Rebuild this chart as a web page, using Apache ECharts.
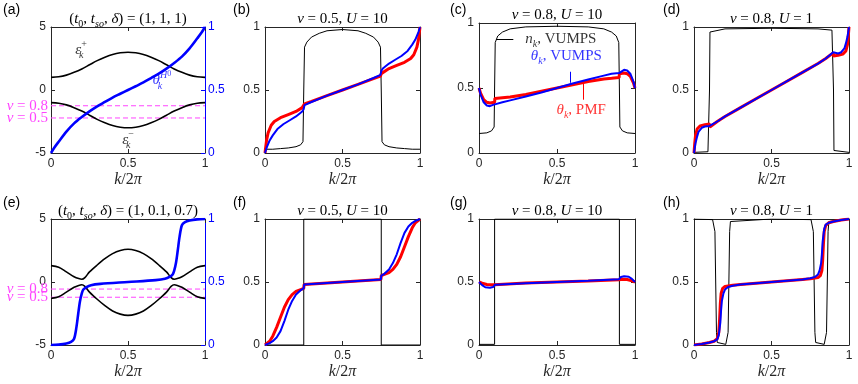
<!DOCTYPE html>
<html>
<head>
<meta charset="utf-8">
<script src="https://cdn.jsdelivr.net/npm/echarts@6/dist/echarts.min.js"></script>
<style>
  html, body { margin: 0; background: #fff; }
  #chart { width: 858px; height: 384px; }
</style>
</head>
<body>
<div id="chart"></div>
<script>
// tick values on the k axis, shared by every panel
const kTicks = [0, 0.5, 1];

// ---- (a) bands and bare theta, (t0,tso,delta) = (1,1,1)
const aEpsPlus = [[0,1.0],[0.05,1.05],[0.1,1.18],[0.15,1.4],[0.2,1.67],[0.25,2.0],[0.3,2.33],[0.35,2.6],[0.4,2.82],[0.45,2.95],[0.5,3.0],[0.55,2.95],[0.6,2.82],[0.65,2.6],[0.7,2.33],[0.75,2.0],[0.8,1.67],[0.85,1.4],[0.9,1.18],[0.95,1.05],[1,1.0]];
const aEpsMinus = [[0,-1.0],[0.05,-1.05],[0.1,-1.18],[0.15,-1.4],[0.2,-1.67],[0.25,-2.0],[0.3,-2.33],[0.35,-2.6],[0.4,-2.82],[0.45,-2.95],[0.5,-3.0],[0.55,-2.95],[0.6,-2.82],[0.65,-2.6],[0.7,-2.33],[0.75,-2.0],[0.8,-1.67],[0.85,-1.4],[0.9,-1.18],[0.95,-1.05],[1,-1.0]];
const aTheta = [[0,0],[0.02,0.04],[0.05,0.09],[0.1,0.17],[0.15,0.235],[0.2,0.285],[0.25,0.33],[0.3,0.37],[0.35,0.405],[0.4,0.44],[0.45,0.47],[0.5,0.5],[0.55,0.53],[0.6,0.56],[0.65,0.595],[0.7,0.63],[0.75,0.67],[0.8,0.715],[0.85,0.765],[0.9,0.83],[0.95,0.91],[0.98,0.96],[1,1]];
const aNuLevels = [-1.25, -2.22];

// ---- (b) nu=0.5, U=10
const bNk = [[0,0.03],[0.05,0.03],[0.1,0.035],[0.15,0.04],[0.2,0.05],[0.23,0.065],[0.245,0.09],[0.25,0.5],[0.255,0.84],[0.27,0.88],[0.3,0.92],[0.35,0.95],[0.4,0.97],[0.5,0.98],[0.6,0.97],[0.65,0.95],[0.7,0.92],[0.73,0.88],[0.745,0.84],[0.75,0.5],[0.755,0.09],[0.77,0.065],[0.8,0.05],[0.85,0.04],[0.9,0.035],[0.95,0.03],[1,0.03]];
const bPmf = [[0,0],[0.01,0.1],[0.02,0.16],[0.04,0.22],[0.06,0.25],[0.1,0.28],[0.15,0.305],[0.2,0.33],[0.24,0.36],[0.25,0.37],[0.255,0.39],[0.3,0.41],[0.4,0.455],[0.5,0.5],[0.6,0.545],[0.7,0.59],[0.745,0.61],[0.75,0.63],[0.76,0.64],[0.8,0.67],[0.85,0.695],[0.9,0.72],[0.94,0.75],[0.96,0.78],[0.98,0.84],[0.99,0.9],[1,1]];
const bVumps = [[0,0],[0.01,0.04],[0.03,0.1],[0.05,0.14],[0.08,0.19],[0.12,0.23],[0.16,0.26],[0.2,0.29],[0.24,0.33],[0.25,0.35],[0.255,0.38],[0.3,0.405],[0.4,0.455],[0.5,0.5],[0.6,0.545],[0.7,0.595],[0.745,0.62],[0.75,0.65],[0.76,0.67],[0.8,0.71],[0.84,0.74],[0.88,0.77],[0.92,0.81],[0.95,0.86],[0.97,0.9],[0.99,0.96],[1,1]];

// ---- (c) nu=0.8, U=10
const cNk = [[0,0.15],[0.05,0.155],[0.08,0.17],[0.097,0.2],[0.1,0.5],[0.104,0.85],[0.12,0.9],[0.15,0.93],[0.2,0.955],[0.3,0.97],[0.5,0.975],[0.7,0.97],[0.8,0.955],[0.85,0.93],[0.88,0.9],[0.896,0.85],[0.9,0.5],[0.903,0.2],[0.92,0.17],[0.95,0.155],[1,0.15]];
const cPmf = [[0,0.5],[0.01,0.46],[0.03,0.41],[0.05,0.39],[0.07,0.385],[0.1,0.39],[0.102,0.42],[0.15,0.425],[0.2,0.43],[0.3,0.45],[0.4,0.475],[0.5,0.5],[0.6,0.525],[0.7,0.55],[0.8,0.57],[0.85,0.575],[0.898,0.58],[0.9,0.61],[0.93,0.615],[0.95,0.61],[0.97,0.59],[0.99,0.54],[1,0.5]];
const cVumps = [[0,0.5],[0.01,0.45],[0.03,0.39],[0.05,0.365],[0.07,0.36],[0.09,0.37],[0.1,0.375],[0.102,0.385],[0.15,0.39],[0.2,0.405],[0.3,0.435],[0.4,0.465],[0.5,0.5],[0.6,0.535],[0.7,0.565],[0.8,0.595],[0.85,0.61],[0.898,0.615],[0.9,0.625],[0.91,0.63],[0.93,0.64],[0.95,0.635],[0.97,0.61],[0.99,0.55],[1,0.5]];

// ---- (d) nu=0.8, U=1
const dNk = [[0,0.005],[0.09,0.01],[0.097,0.02],[0.1,0.5],[0.103,0.96],[0.11,0.975],[0.2,0.985],[0.5,0.99],[0.8,0.985],[0.89,0.975],[0.897,0.96],[0.9,0.5],[0.903,0.02],[0.91,0.01],[1,0.005]];
const dPmf = [[0,0],[0.005,0.08],[0.01,0.14],[0.02,0.19],[0.04,0.215],[0.07,0.225],[0.1,0.23],[0.102,0.205],[0.15,0.25],[0.2,0.29],[0.3,0.36],[0.4,0.43],[0.5,0.5],[0.6,0.57],[0.7,0.64],[0.8,0.71],[0.85,0.75],[0.898,0.795],[0.9,0.77],[0.93,0.775],[0.96,0.785],[0.98,0.81],[0.99,0.86],[0.995,0.92],[1,1]];
const dVumps = [[0,0],[0.005,0.04],[0.01,0.08],[0.02,0.13],[0.03,0.17],[0.05,0.2],[0.07,0.21],[0.1,0.215],[0.102,0.2],[0.15,0.25],[0.2,0.29],[0.3,0.36],[0.4,0.43],[0.5,0.5],[0.6,0.57],[0.7,0.64],[0.8,0.71],[0.85,0.75],[0.898,0.8],[0.9,0.785],[0.93,0.79],[0.95,0.8],[0.97,0.83],[0.98,0.87],[0.99,0.92],[0.995,0.96],[1,1]];

// ---- (e) bands and bare theta, (t0,tso,delta) = (1,0.1,0.7)
const eEpsPlus = [[0,1.3],[0.05,1.17],[0.1,0.8],[0.15,0.42],[0.18,0.27],[0.2,0.22],[0.22,0.35],[0.25,0.8],[0.3,1.35],[0.35,1.85],[0.4,2.25],[0.45,2.5],[0.5,2.6],[0.55,2.5],[0.6,2.25],[0.65,1.85],[0.7,1.35],[0.75,0.8],[0.78,0.35],[0.8,0.22],[0.82,0.27],[0.85,0.42],[0.9,0.8],[0.95,1.17],[1,1.3]];
const eEpsMinus = [[0,-1.3],[0.05,-1.17],[0.1,-0.8],[0.15,-0.42],[0.18,-0.27],[0.2,-0.22],[0.22,-0.35],[0.25,-0.8],[0.3,-1.37],[0.35,-1.88],[0.4,-2.3],[0.45,-2.55],[0.5,-2.65],[0.55,-2.55],[0.6,-2.3],[0.65,-1.88],[0.7,-1.37],[0.75,-0.8],[0.78,-0.35],[0.8,-0.22],[0.82,-0.27],[0.85,-0.42],[0.9,-0.8],[0.95,-1.17],[1,-1.3]];
const eTheta = [[0,0],[0.05,0.003],[0.1,0.012],[0.13,0.025],[0.15,0.05],[0.165,0.14],[0.177,0.25],[0.188,0.345],[0.2,0.41],[0.21,0.44],[0.23,0.46],[0.26,0.475],[0.32,0.485],[0.5,0.5],[0.68,0.515],[0.74,0.525],[0.77,0.54],[0.79,0.56],[0.8,0.59],[0.812,0.655],[0.823,0.75],[0.835,0.86],[0.85,0.95],[0.87,0.975],[0.9,0.988],[0.95,0.997],[1,1]];
const eNuLevels = [-0.56, -1.21];

// ---- (f) nu=0.5, U=10
const fNk = [[0,0],[0.25,0],[0.25,1],[0.75,1],[0.75,0],[1,0]];
const fPmf = [[0,0],[0.03,0.03],[0.05,0.07],[0.075,0.14],[0.1,0.22],[0.125,0.3],[0.15,0.36],[0.175,0.4],[0.2,0.425],[0.23,0.44],[0.25,0.45],[0.252,0.48],[0.5,0.5],[0.748,0.52],[0.75,0.55],[0.77,0.56],[0.8,0.575],[0.825,0.6],[0.85,0.64],[0.875,0.7],[0.9,0.78],[0.925,0.86],[0.95,0.93],[0.97,0.97],[1,1]];
const fVumps = [[0,0],[0.03,0.015],[0.05,0.03],[0.075,0.06],[0.1,0.11],[0.125,0.19],[0.15,0.28],[0.175,0.35],[0.2,0.4],[0.23,0.435],[0.25,0.45],[0.252,0.48],[0.5,0.5],[0.748,0.52],[0.75,0.55],[0.77,0.565],[0.8,0.6],[0.825,0.65],[0.85,0.72],[0.875,0.81],[0.9,0.89],[0.925,0.94],[0.95,0.97],[0.97,0.985],[1,1]];

// ---- (g) nu=0.8, U=10
const gNk = [[0,0.005],[0.1,0.005],[0.1,1],[0.9,1],[0.9,0.005],[1,0.005]];
const gPmf = [[0,0.5],[0.02,0.49],[0.05,0.48],[0.08,0.478],[0.1,0.478],[0.102,0.482],[0.3,0.493],[0.5,0.5],[0.7,0.507],[0.898,0.518],[0.9,0.522],[0.92,0.522],[0.95,0.52],[0.98,0.51],[1,0.5]];
const gVumps = [[0,0.5],[0.02,0.475],[0.04,0.458],[0.07,0.455],[0.09,0.46],[0.1,0.465],[0.102,0.478],[0.3,0.49],[0.5,0.5],[0.7,0.51],[0.898,0.522],[0.9,0.535],[0.91,0.54],[0.93,0.545],[0.96,0.542],[0.98,0.525],[1,0.5]];

// ---- (h) nu=0.8, U=1
const hNk = [[0,1],[0.12,0.995],[0.13,0.98],[0.135,0.9],[0.14,0.5],[0.145,0.1],[0.15,0.02],[0.16,0.005],[0.205,0.005],[0.215,0.02],[0.22,0.1],[0.225,0.5],[0.23,0.9],[0.235,0.98],[0.245,0.995],[0.5,1],[0.755,0.995],[0.765,0.98],[0.77,0.9],[0.775,0.5],[0.78,0.1],[0.785,0.02],[0.795,0.005],[0.84,0.005],[0.85,0.02],[0.855,0.1],[0.86,0.5],[0.865,0.9],[0.87,0.98],[0.88,0.995],[1,1]];
const hPmf = [[0,0],[0.05,0.008],[0.1,0.02],[0.13,0.03],[0.15,0.05],[0.16,0.1],[0.165,0.2],[0.17,0.33],[0.175,0.41],[0.185,0.45],[0.2,0.465],[0.25,0.475],[0.3,0.48],[0.4,0.49],[0.5,0.5],[0.6,0.51],[0.7,0.52],[0.75,0.525],[0.8,0.535],[0.815,0.55],[0.825,0.59],[0.83,0.67],[0.835,0.8],[0.84,0.9],[0.85,0.95],[0.87,0.97],[0.9,0.98],[0.95,0.992],[1,1]];
const hVumps = [[0,0],[0.05,0.008],[0.1,0.02],[0.13,0.03],[0.15,0.045],[0.16,0.08],[0.17,0.18],[0.175,0.28],[0.18,0.35],[0.19,0.41],[0.2,0.44],[0.22,0.46],[0.25,0.47],[0.3,0.48],[0.4,0.49],[0.5,0.5],[0.6,0.51],[0.7,0.52],[0.75,0.53],[0.78,0.54],[0.8,0.56],[0.81,0.59],[0.82,0.65],[0.825,0.72],[0.83,0.82],[0.84,0.92],[0.85,0.955],[0.87,0.97],[0.9,0.98],[0.95,0.992],[1,1]];

// panel texts
const panelTags = ['(a)', '(b)', '(c)', '(d)', '(e)', '(f)', '(g)', '(h)'];
const panelTitles = [
  '{n|(}{i|t}{bn|0}{n|, }{i|t}{b|so}{n|, }{i|δ}{n|) = (1, 1, 1)}',
  '{i|ν}{n| = 0.5, }{i|U}{n| = 10}',
  '{i|ν}{n| = 0.8, }{i|U}{n| = 10}',
  '{i|ν}{n| = 0.8, }{i|U}{n| = 1}',
  '{n|(}{i|t}{bn|0}{n|, }{i|t}{b|so}{n|, }{i|δ}{n|) = (1, 0.1, 0.7)}',
  '{i|ν}{n| = 0.5, }{i|U}{n| = 10}',
  '{i|ν}{n| = 0.8, }{i|U}{n| = 10}',
  '{i|ν}{n| = 0.8, }{i|U}{n| = 1}'
];
const nuLabels = ['{i|ν}{n| = 0.8}', '{i|ν}{n| = 0.5}'];

const SERIF = '"Liberation Serif", "Times New Roman", serif';
const SANS = '"Liberation Sans", Arial, sans-serif';
const INK = '#262626';
const RED = '#ff0000';
const BLUE = '#0000ff';
const PINK = '#ff44ff';

// little rich-text kit for math-ish labels
function richSet(size) {
  const small = Math.round(size * 0.68);
  return {
    i: { fontFamily: SERIF, fontStyle: 'italic', fontSize: size, lineHeight: size + 6 },
    n: { fontFamily: SERIF, fontSize: size, lineHeight: size + 6 },
    b: { fontFamily: SERIF, fontStyle: 'italic', fontSize: small, lineHeight: small + 2, verticalAlign: 'bottom' },
    bn: { fontFamily: SERIF, fontSize: small, lineHeight: small + 2, verticalAlign: 'bottom' },
    b0: { fontFamily: SERIF, fontStyle: 'italic', fontSize: small, lineHeight: small + 2, verticalAlign: 'bottom', width: 0 },
    t: { fontFamily: SERIF, fontStyle: 'italic', fontSize: small, lineHeight: small + 2, verticalAlign: 'top' },
    tn: { fontFamily: SERIF, fontSize: small, lineHeight: small + 2, verticalAlign: 'top' },
    tt: { fontFamily: SERIF, fontSize: small - 2, lineHeight: small + 4, verticalAlign: 'top' }
  };
}

// [left, top, width, height]
const rects = [
  [51, 27, 154, 126], [265, 27, 155, 126], [479, 23, 156, 130], [694, 27, 155, 126],
  [51, 219, 154, 126], [265, 219, 155, 126], [479, 219, 156, 126], [694, 219, 155, 126]
];

const grid = [], xAxis = [], yAxis = [], series = [], graphic = [];

rects.forEach(function (r, i) {
  grid.push({ left: r[0], top: r[1], width: r[2], height: r[3], show: false });
  const lineSt = { show: true, onZero: false, lineStyle: { color: INK, width: 1 } };
  const tickSt = { show: true, inside: true, length: 4, lineStyle: { color: INK } };
  xAxis.push({
    gridIndex: i, type: 'value', position: 'bottom', min: kTicks[0], max: kTicks[2], interval: kTicks[1],
    axisLine: lineSt, axisTick: tickSt, splitLine: { show: false },
    axisLabel: { color: INK, fontFamily: SANS, fontSize: 12, margin: 5 },
    name: '{i|k}{n|/2}{i|π}', nameLocation: 'middle', nameGap: 16,
    nameTextStyle: { color: INK, rich: richSet(16) }
  });
  xAxis.push({
    gridIndex: i, type: 'value', position: 'top', min: 0, max: 1, interval: 0.5,
    axisLine: lineSt, axisTick: tickSt, splitLine: { show: false }, axisLabel: { show: false }
  });
  const band = (i === 0 || i === 4);
  yAxis.push({
    gridIndex: i, type: 'value', position: 'left',
    min: band ? -5 : 0, max: band ? 5 : 1, interval: band ? 5 : 0.5,
    axisLine: lineSt, axisTick: tickSt, splitLine: { show: false },
    axisLabel: { color: INK, fontFamily: SANS, fontSize: 12, margin: 5 }
  });
  yAxis.push({
    gridIndex: i, type: 'value', position: 'right', min: 0, max: 1, interval: 0.5,
    axisLine: { show: true, onZero: false, lineStyle: { color: band ? BLUE : INK, width: 1 } },
    axisTick: { show: true, inside: true, length: 4, lineStyle: { color: band ? BLUE : INK } },
    splitLine: { show: false },
    axisLabel: { show: band, color: BLUE, fontFamily: SANS, fontSize: 12, margin: 3 }
  });

  // titles and panel tags
  graphic.push({
    type: 'text', x: r[0] + r[2] / 2, y: r[1] - 8, silent: true,
    style: { text: panelTitles[i], align: 'center', verticalAlign: 'middle', fill: '#000', rich: richSet(15) }
  });
  graphic.push({
    type: 'text', x: [3, 233, 450, 663][i % 4], y: i < 4 ? 10 : 203, silent: true,
    style: { text: panelTags[i], align: 'left', verticalAlign: 'middle', fill: '#000', font: '14px ' + SANS }
  });
});

function curve(i, data, color, width, opts) {
  return Object.assign({
    type: 'line', xAxisIndex: 2 * i, yAxisIndex: 2 * i, data: data,
    showSymbol: false, symbol: 'none', silent: true, animation: false,
    lineStyle: { color: color, width: width }, z: 2
  }, opts || {});
}

function note(i, pos, text, color, size, yIdx) {
  return {
    type: 'scatter', xAxisIndex: 2 * i, yAxisIndex: yIdx == null ? 2 * i : yIdx,
    data: [pos], symbolSize: 0, silent: true, animation: false, z: 6,
    label: { show: true, position: 'inside', formatter: text, color: color, rich: richSet(size) }
  };
}

// dashed filling-level guides; a plain series so the colour is exactly ours
function nuGuide(i, level, j) {
  return {
    type: 'line', xAxisIndex: 2 * i, yAxisIndex: 2 * i, data: [[0, level], [1, level]],
    showSymbol: false, symbol: 'none', silent: true, animation: false, z: 1,
    lineStyle: { color: PINK, width: 1, type: [5, 3] },
    markPoint: {
      silent: true, animation: false, symbol: 'circle', symbolSize: 0,
      label: { show: true, position: 'left', distance: 3, color: PINK, formatter: nuLabels[j], rich: richSet(15) },
      data: [{ coord: [0, level] }]
    }
  };
}

function arrow(color, from, to) {
  return {
    silent: true, animation: false, symbol: ['none', 'arrow'], symbolSize: [0, 7],
    lineStyle: { color: color, type: 'solid', width: 1 }, label: { show: false },
    data: [[{ coord: from }, { coord: to }]]
  };
}

// (a)
aNuLevels.forEach(function (v, j) { series.push(nuGuide(0, v, j)); });
series.push(curve(0, aEpsPlus, '#000', 1.6, { smooth: 0.3 }));
series.push(curve(0, aEpsMinus, '#000', 1.6, { smooth: 0.3 }));
series.push(curve(0, aTheta, BLUE, 2.6, { yAxisIndex: 1, smooth: 0.3, z: 4 }));
series.push(note(0, [0.195, 3.2], '{i|ε}{b0|k}{tn|+}', '#000', 15));
series.push(note(0, [0.72, 0.75], '{i|θ}{b0|k}{t|H}{tt|0}', BLUE, 15));
series.push(note(0, [0.5, -3.95], '{i|ε}{b0|k}{tn|−}', '#000', 15));

// (b)
series.push(curve(1, bNk, '#000', 1));
series.push(curve(1, bPmf, RED, 3, { z: 3 }));
series.push(curve(1, bVumps, BLUE, 2, { z: 4 }));

// (c)
series.push(curve(2, cNk, '#000', 1, { markLine: arrow('#000', [0.22, 0.875], [0.11, 0.875]) }));
series.push(curve(2, cPmf, RED, 3, { z: 3, markLine: arrow(RED, [0.67, 0.41], [0.67, 0.545]) }));
series.push(curve(2, cVumps, BLUE, 2, { z: 4, markLine: arrow(BLUE, [0.585, 0.625], [0.585, 0.54]) }));
series.push(note(2, [0.525, 0.875], '{i|n}{b|k}{n|, VUMPS}', '#000', 15));
series.push(note(2, [0.56, 0.745], '{i|θ}{b|k}{n|, VUMPS}', BLUE, 15));
series.push(note(2, [0.655, 0.33], '{i|θ}{b|k}{n|, PMF}', RED, 15));

// (d)
series.push(curve(3, dNk, '#000', 1));
series.push(curve(3, dPmf, RED, 3, { z: 3 }));
series.push(curve(3, dVumps, BLUE, 2, { z: 4 }));

// (e)
eNuLevels.forEach(function (v, j) { series.push(nuGuide(4, v, j)); });
series.push(curve(4, eEpsPlus, '#000', 1.6, { smooth: 0.3 }));
series.push(curve(4, eEpsMinus, '#000', 1.6, { smooth: 0.3 }));
series.push(curve(4, eTheta, BLUE, 2.6, { yAxisIndex: 9, smooth: 0.3, z: 4 }));

// (f)
series.push(curve(5, fNk, '#000', 1));
series.push(curve(5, fPmf, RED, 3, { z: 3 }));
series.push(curve(5, fVumps, BLUE, 2, { z: 4 }));

// (g)
series.push(curve(6, gNk, '#000', 1));
series.push(curve(6, gPmf, RED, 3, { z: 3 }));
series.push(curve(6, gVumps, BLUE, 2, { z: 4 }));

// (h)
series.push(curve(7, hNk, '#000', 1));
series.push(curve(7, hPmf, RED, 3, { z: 3 }));
series.push(curve(7, hVumps, BLUE, 2, { z: 4 }));

const chart = echarts.init(document.getElementById('chart'), null, { renderer: 'canvas' });
chart.setOption({
  animation: false,
  backgroundColor: '#fff',
  grid: grid, xAxis: xAxis, yAxis: yAxis, series: series, graphic: graphic
});
</script>
</body>
</html>
